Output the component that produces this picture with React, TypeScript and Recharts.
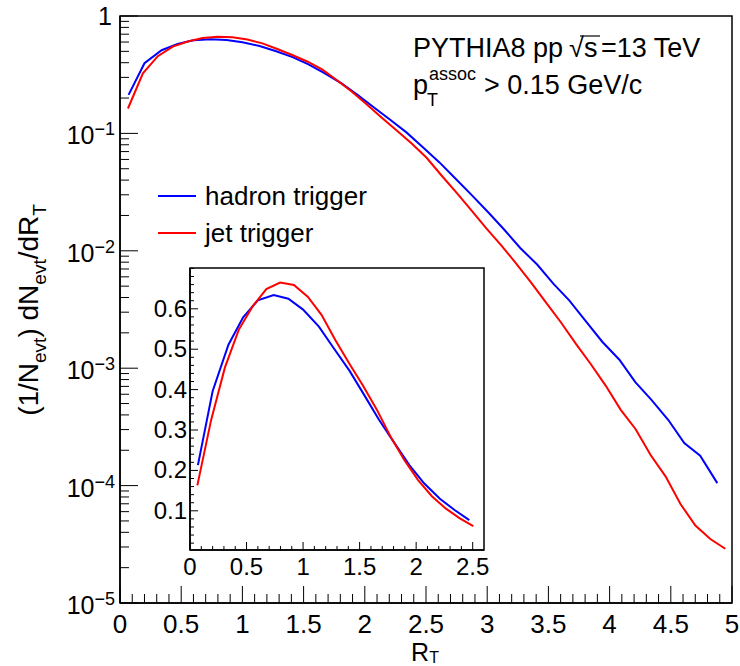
import React from "react";
import { LineChart, Line, XAxis, YAxis, ReferenceArea } from "recharts";

// R_T bin positions and 1/N dN/dR_T values
const hadronX = [
  0.07, 0.2, 0.34, 0.47, 0.6, 0.74, 0.87, 1.0, 1.14, 1.27, 1.41, 1.54, 1.67, 1.81, 1.94, 2.07, 2.21, 2.34, 2.47,
  2.61, 2.74, 2.87, 3.01, 3.14, 3.27, 3.41, 3.54, 3.67, 3.81, 3.94, 4.08, 4.21, 4.34, 4.48, 4.61, 4.74, 4.88,
];
const hadronY = [
  0.213, 0.396, 0.511, 0.579, 0.621, 0.634, 0.625, 0.598, 0.556, 0.503, 0.447, 0.387, 0.326, 0.267, 0.213, 0.168,
  0.13, 0.102, 0.077, 0.0566, 0.0413, 0.0301, 0.0212, 0.0151, 0.01057, 0.0076, 0.00525, 0.00378, 0.00248, 0.00168,
  0.00118, 0.00076, 0.00054, 0.000362, 0.00023, 0.00018, 0.000105,
];
const jetX = [
  0.065, 0.187, 0.309, 0.431, 0.553, 0.675, 0.797, 0.919, 1.041, 1.163, 1.285, 1.407, 1.529, 1.651, 1.773, 1.895,
  2.017, 2.139, 2.261, 2.383, 2.505, 2.627, 2.749, 2.871, 2.993, 3.115, 3.237, 3.359, 3.481, 3.603, 3.725, 3.847,
  3.969, 4.091, 4.213, 4.335, 4.457, 4.579, 4.701, 4.823, 4.945,
];
const jetY = [
  0.163, 0.325, 0.455, 0.548, 0.606, 0.649, 0.665, 0.659, 0.63, 0.585, 0.523, 0.465, 0.41, 0.351, 0.284, 0.226,
  0.176, 0.136, 0.106, 0.082, 0.062, 0.0438, 0.0313, 0.0221, 0.0155, 0.01114, 0.00778, 0.00536, 0.00362, 0.00245,
  0.00161, 0.00108, 0.000708, 0.000442, 0.000302, 0.000182, 0.00012, 0.0000697, 0.0000457, 0.0000351, 0.000029,
];

const mainXLabels = [0, 0.5, 1, 1.5, 2, 2.5, 3, 3.5, 4, 4.5, 5];
const mainYDecades = [1e-5, 1e-4, 1e-3, 1e-2, 1e-1, 1];
const insetXLabels = [0, 0.5, 1, 1.5, 2, 2.5];
const insetYLabels = [0.1, 0.2, 0.3, 0.4, 0.5, 0.6];

const FONT = "'Liberation Sans', Arial, Helvetica, sans-serif";
const BLUE = "#0000ff";
const RED = "#ff0000";

const hadron = hadronX.map((x, i) => ({ x, y: hadronY[i] }));
const jet = jetX.map((x, i) => ({ x, y: jetY[i] }));
const hadronInset = hadron.filter((d) => d.x <= 2.52);
const jetInset = jet.filter((d) => d.x <= 2.52);

// tick positions (major + minor), ROOT style
const mainXTicks = Array.from({ length: 51 }, (_, i) => i / 10);
const mainYTicks: number[] = [];
mainYDecades.forEach((d) => {
  mainYTicks.push(d);
  if (d < 1) for (let m = 2; m <= 9; m++) mainYTicks.push(m * d);
});
const insetXTicks = Array.from({ length: 26 }, (_, i) => i / 10);
const insetYTicks = Array.from({ length: 35 }, (_, i) => Math.round((i + 1) * 2) / 100);

const near = (a: number, b: number) => Math.abs(a - b) < 1e-6;

const MainXTick = ({ x, y, payload }: any) => {
  const v = payload.value;
  const major = mainXLabels.some((l) => near(l, v));
  return (
    <g>
      <line x1={x} x2={x} y1={y} y2={y - (major ? 17 : 9)} stroke="#000" strokeWidth={1} />
      {major && (
        <text x={x} y={y + 30} textAnchor="middle" fontSize={26} fontFamily={FONT} fill="#000">
          {String(v)}
        </text>
      )}
    </g>
  );
};

const MainYTick = ({ x, y, payload }: any) => {
  const v = payload.value;
  const exp = Math.round(Math.log10(v));
  const major = Math.abs(v - Math.pow(10, exp)) < v * 1e-6;
  return (
    <g>
      <line x1={x} x2={x + (major ? 18 : 9)} y1={y} y2={y} stroke="#000" strokeWidth={1} />
      {major &&
        (exp === 0 ? (
          <text x={x - 8} y={y + 9} textAnchor="end" fontSize={25} fontFamily={FONT} fill="#000">
            1
          </text>
        ) : (
          <text x={x - 5} y={y + 11} textAnchor="end" fontSize={25} fontFamily={FONT} fill="#000">
            10
            <tspan dy={-9} fontSize={18}>
              {"\u2212" + String(-exp)}
            </tspan>
          </text>
        ))}
    </g>
  );
};

const InsetXTick = ({ x, y, payload }: any) => {
  const v = payload.value;
  const major = insetXLabels.some((l) => near(l, v));
  return (
    <g>
      <line x1={x} x2={x} y1={y} y2={y - (major ? 8 : 4)} stroke="#000" strokeWidth={1} />
      {major && (
        <text x={x} y={y + 25} textAnchor="middle" fontSize={24} fontFamily={FONT} fill="#000">
          {String(v)}
        </text>
      )}
    </g>
  );
};

const InsetYTick = ({ x, y, payload }: any) => {
  const v = payload.value;
  const major = insetYLabels.some((l) => near(l, v));
  return (
    <g>
      <line x1={x} x2={x + (major ? 8 : 4)} y1={y} y2={y} stroke="#000" strokeWidth={1} />
      {major && (
        <text x={x - 3} y={y + 8} textAnchor="end" fontSize={24} fontFamily={FONT} fill="#000">
          {String(v)}
        </text>
      )}
    </g>
  );
};

export default function App() {
  return (
    <div style={{ position: "absolute", left: 0, top: 0, width: 740, height: 666, background: "#fff" }}>
      <div style={{ position: "absolute", left: 0, top: 0 }}>
        <LineChart width={740} height={666} margin={{ top: 16, right: 8, bottom: 23, left: 60 }}>
          <XAxis
            type="number"
            dataKey="x"
            domain={[0, 5]}
            ticks={mainXTicks}
            interval={0}
            allowDataOverflow
            height={40}
            tickSize={0}
            tickMargin={0}
            tickLine={false}
            axisLine={{ stroke: "#000", strokeWidth: 1.5 }}
            tick={(p: any) => <MainXTick {...p} />}
          />
          <YAxis
            type="number"
            scale="log"
            domain={[1e-5, 1]}
            ticks={mainYTicks}
            interval={0}
            allowDataOverflow
            width={60}
            tickSize={0}
            tickMargin={0}
            tickLine={false}
            axisLine={{ stroke: "#000", strokeWidth: 1.5 }}
            tick={(p: any) => <MainYTick {...p} />}
          />
          <ReferenceArea x1={0} x2={5} y1={1e-5} y2={1} fill="none" stroke="#000" strokeWidth={1.5} ifOverflow="visible" />
          <Line data={hadron} dataKey="y" type="linear" stroke={BLUE} strokeWidth={2} dot={false} isAnimationActive={false} />
          <Line data={jet} dataKey="y" type="linear" stroke={RED} strokeWidth={2} dot={false} isAnimationActive={false} />
        </LineChart>
      </div>

      <div style={{ position: "absolute", left: 130, top: 250 }}>
        <LineChart width={370} height={340} margin={{ top: 18, right: 16, bottom: 10, left: 20 }}>
          <XAxis
            type="number"
            dataKey="x"
            domain={[0, 2.6]}
            ticks={insetXTicks}
            interval={0}
            allowDataOverflow
            height={30}
            tickSize={0}
            tickMargin={0}
            tickLine={false}
            axisLine={{ stroke: "#000", strokeWidth: 1.5 }}
            tick={(p: any) => <InsetXTick {...p} />}
          />
          <YAxis
            type="number"
            domain={[0.003, 0.701]}
            ticks={insetYTicks}
            interval={0}
            allowDataOverflow
            width={40}
            tickSize={0}
            tickMargin={0}
            tickLine={false}
            axisLine={{ stroke: "#000", strokeWidth: 1.5 }}
            tick={(p: any) => <InsetYTick {...p} />}
          />
          <ReferenceArea x1={0} x2={2.6} y1={0.003} y2={0.701} fill="none" stroke="#000" strokeWidth={1.5} ifOverflow="visible" />
          <Line data={hadronInset} dataKey="y" type="linear" stroke={BLUE} strokeWidth={2} dot={false} isAnimationActive={false} />
          <Line data={jetInset} dataKey="y" type="linear" stroke={RED} strokeWidth={2} dot={false} isAnimationActive={false} />
        </LineChart>
      </div>

      <svg
        width={740}
        height={666}
        style={{ position: "absolute", left: 0, top: 0, pointerEvents: "none" }}
        fontFamily={FONT}
      >
        {/* annotation */}
        <text x={413} y={57} fontSize={27} fill="#000">
          PYTHIA8 pp
        </text>
        <text x={569} y={57} fontSize={27} fill="#000">
          {"\u221A"}
        </text>
        <line x1={580} x2={600} y1={36} y2={36} stroke="#000" strokeWidth={1.2} />
        <text x={584} y={57} fontSize={27} fill="#000">
          s
        </text>
        <text x={601} y={57} fontSize={27} fill="#000">
          =13 TeV
        </text>
        <text x={413} y={94} fontSize={27} fill="#000">
          p
          <tspan dx={1} dy={-14} fontSize={18}>
            assoc
          </tspan>
          <tspan x={427} dy={26} fontSize={18}>
            T
          </tspan>
          <tspan x={484} dy={-12} fontSize={27}>
            {"> 0.15 GeV/c"}
          </tspan>
        </text>

        {/* legend */}
        <line x1={158} x2={196} y1={196} y2={196} stroke={BLUE} strokeWidth={2} />
        <text x={205} y={205} fontSize={26} fill="#000">
          hadron trigger
        </text>
        <line x1={158} x2={196} y1={233} y2={233} stroke={RED} strokeWidth={2} />
        <text x={205} y={242} fontSize={26} fill="#000">
          jet trigger
        </text>

        {/* axis titles */}
        <text x={425} y={661} fontSize={25} textAnchor="middle" fill="#000">
          R
          <tspan dy={2} fontSize={16}>
            T
          </tspan>
        </text>
        <text transform="translate(38,310) rotate(-90)" fontSize={28} textAnchor="middle" fill="#000">
          (1/N
          <tspan dy={8} fontSize={19}>
            evt
          </tspan>
          <tspan dy={-8}>) dN</tspan>
          <tspan dy={8} fontSize={19}>
            evt
          </tspan>
          <tspan dy={-8}>/dR</tspan>
          <tspan dy={8} fontSize={19}>
            T
          </tspan>
        </text>
      </svg>
    </div>
  );
}
